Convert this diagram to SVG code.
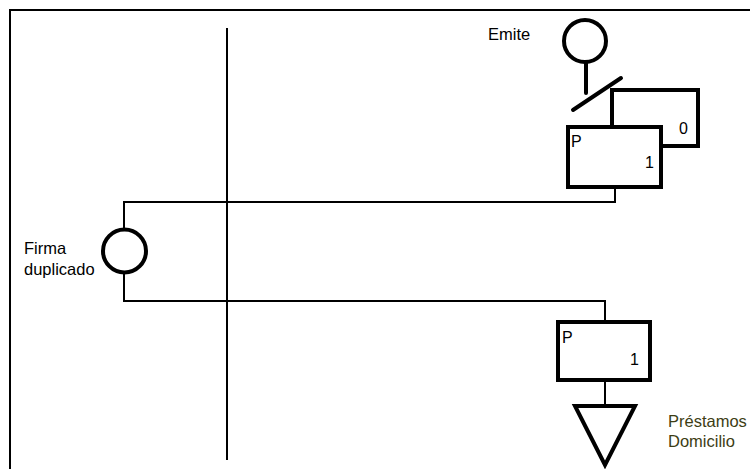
<svg xmlns="http://www.w3.org/2000/svg" width="750" height="469" viewBox="0 0 750 469">
<style>
.thick{fill:none;stroke:#000;stroke-width:4;stroke-linecap:round;stroke-linejoin:miter}
.box{fill:#fff;stroke:#000;stroke-width:4}
.thin{fill:none;stroke:#000;stroke-width:2}
.t{font-family:"Liberation Sans",Arial,sans-serif;font-size:16.5px;fill:#000}
.s{font-family:"Liberation Sans",Arial,sans-serif;font-size:16px;fill:#000}
.g{fill:#3d3d14}
</style>
<rect width="750" height="469" fill="#fff"/>
<g id="frame">
<polyline class="thin" points="10,469 10,10 750,10"/>
<line class="thin" x1="227" y1="28" x2="227" y2="460"/>
</g>
<g id="connectors">
<polyline class="thin" points="615,187 615,202 124,202 124,229"/>
<polyline class="thin" points="124,274 124,301 605,301 605,322"/>
<line class="thin" x1="605" y1="380" x2="605" y2="405"/>
</g>
<g id="emite">
<circle class="thick" cx="585" cy="41" r="21"/>
<line class="thick" x1="586" y1="62" x2="586" y2="93"/>
<line class="thick" x1="573" y1="110" x2="621" y2="78"/>
<text class="t" x="488" y="40">Emite</text>
</g>
<g id="archivo0">
<polyline class="thick" points="612,126 612,90 698,90 698,146 661,146" stroke-linecap="butt"/>
<text class="s" x="679" y="134">0</text>
</g>
<g id="doc1">
<rect class="box" x="568" y="127" width="93" height="60"/>
<text class="s" x="571" y="147">P</text>
<text class="s" x="645" y="168">1</text>
</g>
<g id="firma">
<circle class="thick" cx="124.5" cy="251" r="21.5"/>
<text class="t" x="24" y="254">Firma</text>
<text class="t" x="24" y="275">duplicado</text>
</g>
<g id="doc2">
<rect class="box" x="558" y="322" width="92" height="58"/>
<text class="s" x="562" y="343">P</text>
<text class="s" x="630" y="365">1</text>
</g>
<g id="prestamos">
<polygon class="thick" points="575,406 635,406 605,465" stroke-linejoin="miter"/>
<text class="t g" x="668" y="427">Préstamos</text>
<text class="t g" x="668" y="447">Domicilio</text>
</g>
</svg>
